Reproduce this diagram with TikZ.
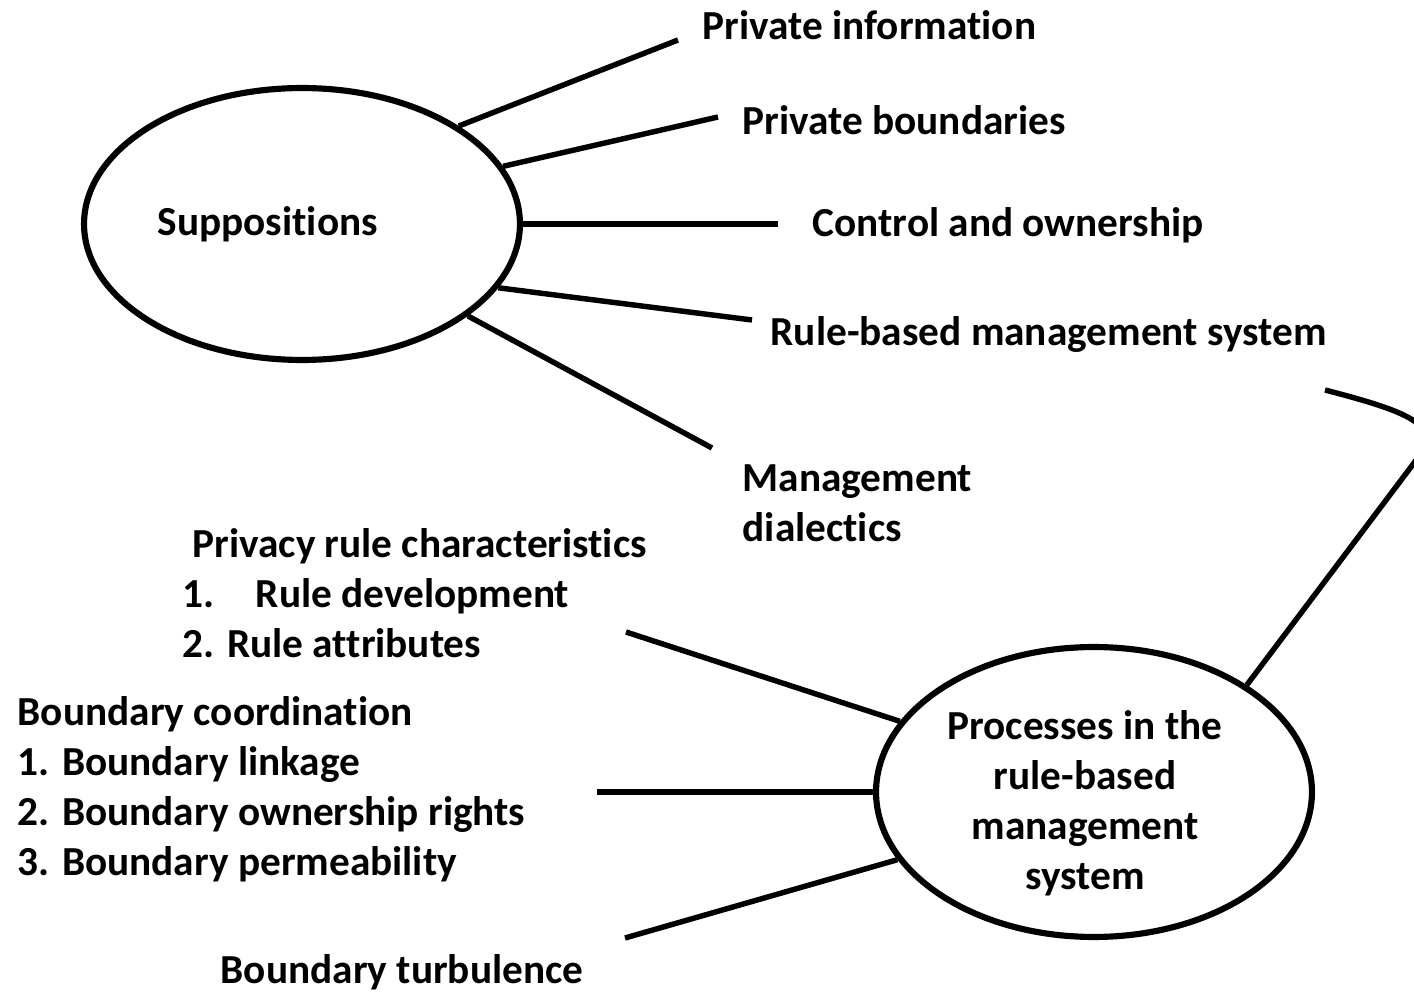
\documentclass[tikz,border=0pt]{standalone}
\usepackage{fontspec}
\setmainfont{Carlito}[Ligatures={NoCommon}]
\usetikzlibrary{shapes.geometric}

\begin{document}
\begin{tikzpicture}[x=0.02cm, y=-0.02cm, line width=3.1pt,
  bubble/.style = {draw, ellipse, line width=3.5pt, inner sep=0pt},
  lbl/.style = {anchor=west, inner sep=0pt, align=left, font=\fontsize{23.5}{28.4}\selectfont\bfseries}]
	\useasboundingbox (0,0) rectangle (1414,996);
	% the two ellipses
	\node[bubble, minimum width=8.72cm, minimum height=5.44cm] (supp) at (302,224) {};
	\node[lbl] (supptxt) at (155,224) {Suppositions};
	\node[bubble, minimum width=8.72cm, minimum height=5.8cm] (proc) at (1094,792) {};
	\node[lbl, anchor=center, align=center] (proctxt) at (1085,803) {Processes in the\\rule-based\\management\\system};
	% suppositions
	\node[lbl] (pinfo) at (700,25) {Private information};
	\node[lbl] (pbound) at (740,120) {Private boundaries};
	\node[lbl] (ctrl) at (810,225) {Control and ownership};
	\node[lbl] (rbms) at (768,335) {Rule-based management system};
	\node[lbl] (dial) at (740,503) {Management\\dialectics};
	\coordinate (e1) at (678,40);
	\coordinate (e2) at (718,117);
	\coordinate (e3) at (778,224);
	\coordinate (e4) at (752,320);
	\coordinate (e5) at (712,448);
	\draw (supp.32) -- (e1);
	\draw (supp.16) -- (e2);
	\draw (supp.0) -- (e3);
	\draw (supp.-18) -- (e4);
	\draw (supp.-29.5) -- (e5);
	% processes
	\node[lbl] (prc) at (180,593) {\hspace*{0.24em}Privacy rule characteristics\\1.\hspace{1em}Rule development\\2. Rule attributes};
	\node[lbl] (bco) at (15,789) {Boundary coordination\\1. Boundary linkage\\2. Boundary ownership rights\\3. Boundary permeability};
	\node[lbl] (btu) at (218,972) {Boundary turbulence};
	\coordinate (ea) at (626,632);
	\coordinate (eb) at (597,792);
	\coordinate (ec) at (625,938);
	\draw (proc.160.8) -- (ea);
	\draw (proc.180) -- (eb);
	\draw (proc.199) -- (ec);
	% link back to the rule-based system
	\coordinate (bend) at (1325,390);
	\coordinate (tip) at (1420,455);
	\draw (bend) .. controls (1410,412) and (1440,425) .. (tip) -- (proc.35);
\end{tikzpicture}
\end{document}
